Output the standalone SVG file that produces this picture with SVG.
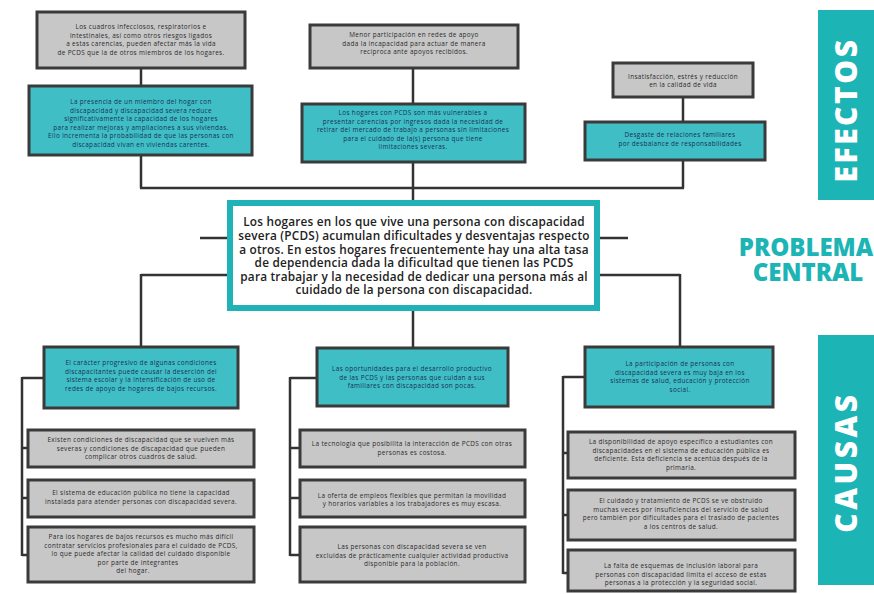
<svg xmlns="http://www.w3.org/2000/svg" width="874" height="594" viewBox="0 0 874 594">
<style>
.g{fill:#c7c7c7;stroke:#3a3a3a;stroke-width:3}
.t{fill:#3fbfc5;stroke:#3a3a3a;stroke-width:3}
.st{font-family:"Open Sans","Liberation Sans",sans-serif;font-size:6.4px;letter-spacing:0.35px;text-anchor:middle;fill:#2a2a2a}
.tt{font-family:"Open Sans","Liberation Sans",sans-serif;font-size:6.4px;letter-spacing:0.35px;text-anchor:middle;fill:#1a2f55}
.ct{font-family:"Open Sans","Liberation Sans",sans-serif;font-size:11.8px;letter-spacing:0.2px;font-weight:600;text-anchor:middle;fill:#222}
.c line{stroke:#333;stroke-width:2.5;fill:none}
.lab{font-family:"Open Sans","Liberation Sans",sans-serif;font-weight:800;text-anchor:middle}
</style>
<rect width="874" height="594" fill="#ffffff"/>
<g class="c" id="connectors">
<line x1="141" y1="68" x2="141" y2="86"/>
<line x1="413" y1="68" x2="413" y2="104"/>
<line x1="683" y1="97" x2="683" y2="122"/>
<line x1="141" y1="155" x2="141" y2="188"/>
<line x1="413" y1="162" x2="413" y2="200"/>
<line x1="683" y1="160" x2="683" y2="188"/>
<line x1="140" y1="188" x2="684" y2="188"/>
<line x1="200" y1="238" x2="227" y2="238"/>
<line x1="600" y1="238" x2="628" y2="238"/>
<line x1="141" y1="275" x2="227" y2="275"/>
<line x1="141" y1="274" x2="141" y2="347"/>
<line x1="600" y1="275" x2="680" y2="275"/>
<line x1="680" y1="274" x2="680" y2="347"/>
<line x1="413" y1="311" x2="413" y2="348"/>
<line x1="22" y1="378" x2="44" y2="378"/>
<line x1="22" y1="377" x2="22" y2="556"/>
<line x1="22" y1="448" x2="28" y2="448"/>
<line x1="22" y1="498" x2="28" y2="498"/>
<line x1="22" y1="555" x2="28" y2="555"/>
<line x1="290" y1="378" x2="317" y2="378"/>
<line x1="290" y1="377" x2="290" y2="556"/>
<line x1="290" y1="448" x2="300" y2="448"/>
<line x1="290" y1="498" x2="300" y2="498"/>
<line x1="290" y1="555" x2="300" y2="555"/>
<line x1="563" y1="377" x2="585" y2="377"/>
<line x1="563" y1="376" x2="563" y2="574"/>
<line x1="563" y1="453" x2="568" y2="453"/>
<line x1="563" y1="515" x2="568" y2="515"/>
<line x1="563" y1="573" x2="568" y2="573"/>
</g>
<g id="e1">
<rect class="g" x="37" y="12" width="208" height="56"/>
<text class="st"><tspan x="141" y="29">Los cuadros infecciosos, respiratorios e</tspan><tspan x="141" y="37.5">intestinales, así como otros riesgos ligados</tspan><tspan x="141" y="46">a estas carencias, pueden afectar más la vida</tspan><tspan x="141" y="54.5">de PCDS que la de otros miembros de los hogares.</tspan></text>
</g>
<g id="e2">
<rect class="g" x="310" y="25" width="208" height="43"/>
<text class="st"><tspan x="414" y="37">Menor participación en redes de apoyo</tspan><tspan x="414" y="45.5">dada la incapacidad para actuar de manera</tspan><tspan x="414" y="54">recíproca ante apoyos recibidos.</tspan></text>
</g>
<g id="e3">
<rect class="g" x="613" y="63" width="140" height="34"/>
<text class="st"><tspan x="683" y="78.5">Insatisfacción, estrés y reducción</tspan><tspan x="683" y="87">en la calidad de vida</tspan></text>
</g>
<g id="e4">
<rect class="t" x="29" y="86" width="223" height="69"/>
<text class="tt"><tspan x="141" y="104">La presencia de un miembro del hogar con</tspan><tspan x="141" y="112.5">discapacidad y discapacidad severa reduce</tspan><tspan x="141" y="121">significativamente la capacidad de los hogares</tspan><tspan x="141" y="129.5">para realizar mejoras y ampliaciones a sus viviendas.</tspan><tspan x="141" y="138">Ello incrementa la probabilidad de que las personas con</tspan><tspan x="141" y="146.5">discapacidad vivan en viviendas carentes.</tspan></text>
</g>
<g id="e5">
<rect class="t" x="302" y="104" width="223" height="58"/>
<text class="tt"><tspan x="413" y="115">Los hogares con PCDS son más vulnerables a</tspan><tspan x="413" y="123.5">presentar carencias por ingresos dada la necesidad de</tspan><tspan x="413" y="132">retirar del mercado de trabajo a personas sin limitaciones</tspan><tspan x="413" y="140.5">para el cuidado de la(s) persona que tiene</tspan><tspan x="413" y="149">limitaciones severas.</tspan></text>
</g>
<g id="e6">
<rect class="t" x="585" y="122" width="180" height="38"/>
<text class="tt"><tspan x="680" y="137">Desgaste de relaciones familiares</tspan><tspan x="680" y="145.5">por desbalance de responsabilidades</tspan></text>
</g>
<g id="central">
<rect x="230" y="203" width="367" height="105" fill="#ffffff" stroke="#1fb3b7" stroke-width="6"/>
<text class="ct"><tspan x="414" y="226">Los hogares en los que vive una persona con discapacidad</tspan><tspan x="414" y="240">severa (PCDS) acumulan dificultades y desventajas respecto</tspan><tspan x="414" y="253.5">a otros. En estos hogares frecuentemente hay una alta tasa</tspan><tspan x="414" y="267">de dependencia dada la dificultad que tienen las PCDS</tspan><tspan x="414" y="280.5">para trabajar y la necesidad de dedicar una persona más al</tspan><tspan x="414" y="294">cuidado de la persona con discapacidad.</tspan></text>
</g>
<g id="c1">
<rect class="t" x="44" y="347" width="194" height="61"/>
<text class="tt"><tspan x="141" y="365">El carácter progresivo de algunas condiciones</tspan><tspan x="141" y="373.5">discapacitantes puede causar la deserción del</tspan><tspan x="141" y="382">sistema escolar y la intensificación de uso de</tspan><tspan x="141" y="390.5">redes de apoyo de hogares de bajos recursos.</tspan></text>
</g>
<g id="c2">
<rect class="t" x="317" y="348" width="191" height="58"/>
<text class="tt"><tspan x="412" y="371">Las oportunidades para el desarrollo productivo</tspan><tspan x="412" y="379.5">de las PCDS y las personas que cuidan a sus</tspan><tspan x="412" y="388">familiares con discapacidad son pocas.</tspan></text>
</g>
<g id="c3">
<rect class="t" x="585" y="347" width="188" height="60"/>
<text class="tt"><tspan x="680" y="366">La participación de personas con</tspan><tspan x="680" y="374.5">discapacidad severa es muy baja en los</tspan><tspan x="680" y="383">sistemas de salud, educación y protección</tspan><tspan x="680" y="391.5">social.</tspan></text>
</g>
<g id="c1a">
<rect class="g" x="28" y="430" width="226" height="37"/>
<text class="st"><tspan x="141" y="442">Existen condiciones de discapacidad que se vuelven más</tspan><tspan x="141" y="450.5">severas y condiciones de discapacidad que pueden</tspan><tspan x="141" y="459">complicar otros cuadros de salud.</tspan></text>
</g>
<g id="c1b">
<rect class="g" x="28" y="480" width="226" height="37"/>
<text class="st"><tspan x="141" y="495">El sistema de educación pública no tiene la capacidad</tspan><tspan x="141" y="503.5">instalada para atender personas con discapacidad severa.</tspan></text>
</g>
<g id="c1c">
<rect class="g" x="28" y="527" width="226" height="55"/>
<text class="st"><tspan x="141" y="539">Para los hogares de bajos recursos es mucho más difícil</tspan><tspan x="141" y="547.5">contratar servicios profesionales para el cuidado de PCDS,</tspan><tspan x="141" y="556">lo que puede afectar la calidad del cuidado disponible</tspan><tspan x="138" y="564.5">por parte de integrantes</tspan><tspan x="133" y="573">del hogar.</tspan></text>
</g>
<g id="c2a">
<rect class="g" x="300" y="430" width="225" height="37"/>
<text class="st"><tspan x="412" y="446">La tecnología que posibilita la interacción de PCDS con otras</tspan><tspan x="412" y="454.5">personas es costosa.</tspan></text>
</g>
<g id="c2b">
<rect class="g" x="300" y="480" width="225" height="37"/>
<text class="st"><tspan x="412" y="497.5">La oferta de empleos flexibles que permitan la movilidad</tspan><tspan x="412" y="506">y horarios variables a los trabajadores es muy escasa.</tspan></text>
</g>
<g id="c2c">
<rect class="g" x="300" y="527" width="225" height="55"/>
<text class="st"><tspan x="412" y="549">Las personas con discapacidad severa se ven</tspan><tspan x="412" y="557.5">excluidas de prácticamente cualquier actividad productiva</tspan><tspan x="412" y="566">disponible para la población.</tspan></text>
</g>
<g id="c3a">
<rect class="g" x="568" y="432" width="227" height="46"/>
<text class="st"><tspan x="681" y="444">La disponibilidad de apoyo específico a estudiantes con</tspan><tspan x="681" y="452.5">discapacidades en el sistema de educación pública es</tspan><tspan x="681" y="461">deficiente. Esta deficiencia se acentúa después de la</tspan><tspan x="681" y="469.5">primaria.</tspan></text>
</g>
<g id="c3b">
<rect class="g" x="568" y="490" width="227" height="50"/>
<text class="st"><tspan x="681" y="503">El cuidado y tratamiento de PCDS se ve obstruido</tspan><tspan x="681" y="511.5">muchas veces por insuficiencias del servicio de salud</tspan><tspan x="681" y="520">pero también por dificultades para el traslado de pacientes</tspan><tspan x="681" y="528.5">a los centros de salud.</tspan></text>
</g>
<g id="c3c">
<rect class="g" x="568" y="550" width="227" height="41"/>
<text class="st"><tspan x="681" y="568">La falta de esquemas de inclusión laboral para</tspan><tspan x="681" y="576.5">personas con discapacidad limita el acceso de estas</tspan><tspan x="681" y="585">personas a la protección y la seguridad social.</tspan></text>
</g>
<g id="efectos">
<rect x="818" y="10" width="56" height="190" fill="#1db4b6"/>
<text class="lab" x="0" y="0" font-size="30" letter-spacing="2.5" fill="#ffffff" transform="translate(857,110) rotate(-90)">EFECTOS</text>
</g>
<g id="problema">
<text class="lab" x="806" y="256" font-size="24" fill="#1db4b6">PROBLEMA</text>
<text class="lab" x="808" y="281" font-size="24" fill="#1db4b6">CENTRAL</text>
</g>
<g id="causas">
<rect x="818" y="335" width="56" height="250" fill="#1db4b6"/>
<text class="lab" x="0" y="0" font-size="30" letter-spacing="3.5" fill="#ffffff" transform="translate(857,462) rotate(-90)">CAUSAS</text>
</g>
</svg>
